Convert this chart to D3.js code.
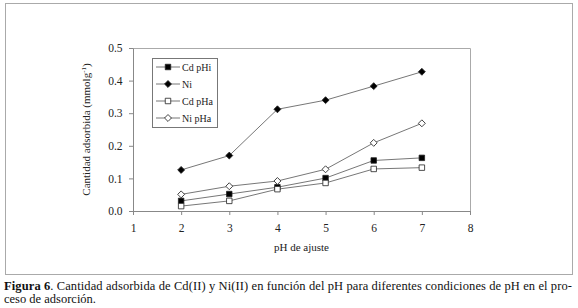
<!DOCTYPE html>
<html>
<head>
<meta charset="utf-8">
<script src="https://cdn.jsdelivr.net/npm/d3@7"></script>
<style>
  body { margin: 0; background: #fff; }
  svg text { font-family: "Liberation Serif", "DejaVu Serif", serif; }
</style>
</head>
<body>
<div id="chart"></div>
<script>
// datos
const phValues = [2, 3, 4, 5, 6, 7];
const cdPHi = [0.031, 0.052, 0.073, 0.101, 0.155, 0.163];
const niPHi = [0.126, 0.17, 0.312, 0.34, 0.383, 0.427];
const cdPHa = [0.015, 0.031, 0.067, 0.086, 0.129, 0.133];
const niPHa = [0.051, 0.076, 0.092, 0.128, 0.209, 0.269];
const seriesNames = ["Cd pHi", "Ni", "Cd pHa", "Ni pHa"];
const xTicks = [1, 2, 3, 4, 5, 6, 7, 8];
const yTicks = [0, 0.1, 0.2, 0.3, 0.4, 0.5];

const width = 578, height = 308;
const plot = { left: 133, right: 470, top: 48, bottom: 211 };

const svg = d3.select("#chart").append("svg")
  .attr("width", width)
  .attr("height", height);

// marco exterior
svg.append("rect")
  .attr("x", 5.5).attr("y", 3.5)
  .attr("width", 567).attr("height", 271)
  .attr("fill", "none")
  .attr("stroke", "#aaa");

const x = d3.scaleLinear().domain([1, 8]).range([plot.left, plot.right]);
const y = d3.scaleLinear().domain([0, 0.5]).range([plot.bottom, plot.top]);

// borde superior y derecho del area de trazado
svg.append("path")
  .attr("d", `M${plot.left},${plot.top + 0.5}H${plot.right + 0.5}V${plot.bottom}`)
  .attr("fill", "none")
  .attr("stroke", "#aaa");

// ejes
const xAxis = svg.append("g")
  .attr("transform", `translate(0,${plot.bottom})`)
  .call(d3.axisBottom(x).tickValues(xTicks).tickFormat(d3.format("d")).tickSize(4).tickSizeOuter(0));
const yAxis = svg.append("g")
  .attr("transform", `translate(${plot.left},0)`)
  .call(d3.axisLeft(y).tickValues(yTicks).tickFormat(d3.format(".1f")).tickSize(4).tickSizeOuter(0));

[xAxis, yAxis].forEach(g => {
  g.selectAll("path, line").attr("stroke", "#888");
  g.selectAll("text").style("font-size", "11.5px").attr("fill", "#222");
});
xAxis.selectAll("text").attr("dy", "1.2em");
yAxis.selectAll("text").attr("dx", "-0.3em");

// titulos de ejes
svg.append("text")
  .attr("x", (plot.left + plot.right) / 2)
  .attr("y", 251)
  .attr("text-anchor", "middle")
  .style("font-size", "11px")
  .attr("fill", "#222")
  .text("pH de ajuste");

const yTitle = svg.append("text")
  .attr("transform", `translate(90,${(plot.top + plot.bottom) / 2}) rotate(-90)`)
  .attr("text-anchor", "middle")
  .style("font-size", "11px")
  .attr("fill", "#222");
yTitle.append("tspan").text("Cantidad adsorbida (mmolg");
yTitle.append("tspan").attr("dy", -4).style("font-size", "7px").text("-1");
yTitle.append("tspan").attr("dy", 4).text(")");

// simbolos (rombo = cuadrado girado 45 grados)
const symbols = [
  { shape: d3.symbolSquare, size: 30, fill: "#000", rot: 0 },
  { shape: d3.symbolSquare, size: 24, fill: "#000", rot: 45 },
  { shape: d3.symbolSquare, size: 30, fill: "#fff", rot: 0 },
  { shape: d3.symbolSquare, size: 24, fill: "#fff", rot: 45 }
];

const series = [cdPHi, niPHi, cdPHa, niPHa].map((vals, i) => ({
  name: seriesNames[i],
  sym: symbols[i],
  values: vals.map((v, j) => ({ ph: phValues[j], v }))
}));

const line = d3.line().x(d => x(d.ph)).y(d => y(d.v));

series.forEach(s => {
  svg.append("path")
    .datum(s.values)
    .attr("d", line)
    .attr("fill", "none")
    .attr("stroke", "#777")
    .attr("stroke-width", 1);

  svg.selectAll(null)
    .data(s.values)
    .enter()
    .append("path")
    .attr("transform", d => `translate(${x(d.ph)},${y(d.v)}) rotate(${s.sym.rot})`)
    .attr("d", d3.symbol(s.sym.shape, s.sym.size))
    .attr("fill", s.sym.fill)
    .attr("stroke", "#222")
    .attr("stroke-width", 0.8);
});

// leyenda
const legend = svg.append("g").attr("transform", "translate(152,58)");
legend.append("rect")
  .attr("x", 0.5).attr("y", 0.5)
  .attr("width", 65).attr("height", 69)
  .attr("fill", "#fff")
  .attr("stroke", "#777");

series.forEach((s, i) => {
  const g = legend.append("g").attr("transform", `translate(0,${9 + i * 17})`);
  g.append("line")
    .attr("x1", 4).attr("x2", 28)
    .attr("stroke", "#777");
  g.append("path")
    .attr("transform", `translate(16,0) rotate(${s.sym.rot})`)
    .attr("d", d3.symbol(s.sym.shape, s.sym.size))
    .attr("fill", s.sym.fill)
    .attr("stroke", "#222")
    .attr("stroke-width", 0.8);
  g.append("text")
    .attr("x", 30)
    .attr("y", 3.5)
    .style("font-size", "10px")
    .attr("fill", "#222")
    .text(s.name);
});

// pie de figura
const cap1 = svg.append("text")
  .attr("x", 4)
  .attr("y", 290)
  .style("font-size", "12.5px")
  .attr("fill", "#111")
  .attr("textLength", 568)
  .attr("lengthAdjust", "spacing");
cap1.append("tspan").style("font-weight", "bold").text("Figura 6");
cap1.append("tspan").text(". Cantidad adsorbida de Cd(II) y Ni(II) en función del pH para diferentes condiciones de pH en el pro-");

svg.append("text")
  .attr("x", 4)
  .attr("y", 303)
  .style("font-size", "12.5px")
  .attr("fill", "#111")
  .text("ceso de adsorción.");
</script>
</body>
</html>
